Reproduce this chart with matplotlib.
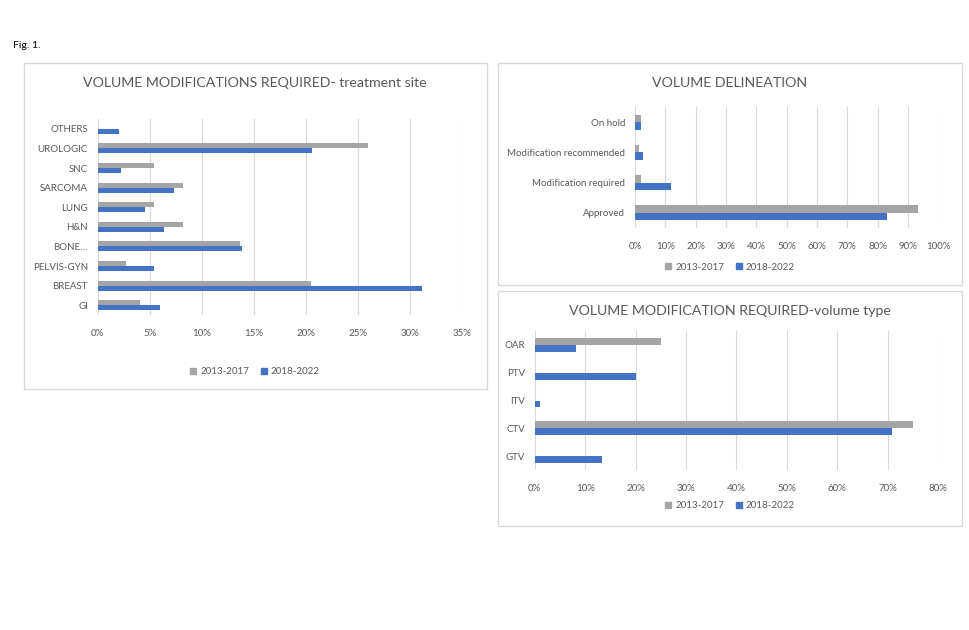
import matplotlib
matplotlib.use("Agg")
import matplotlib.pyplot as plt
from matplotlib.patches import Rectangle, Patch
from matplotlib.ticker import FuncFormatter
import numpy as np

plt.rcParams['font.family'] = ['Lato', 'DejaVu Sans']

# data (percent)
series = ["2013-2017", "2018-2022"]

site_cats = ["GI", "BREAST", "PELVIS-GYN", "BONE…", "H&N", "LUNG", "SARCOMA", "SNC", "UROLOGIC", "OTHERS"]
site_old = [4.1, 20.5, 2.7, 13.7, 8.2, 5.4, 8.2, 5.4, 26.0, 0]
site_new = [6.0, 31.2, 5.4, 13.9, 6.4, 4.5, 7.3, 2.2, 20.6, 2.0]

delin_cats = ["Approved", "Modification required", "Modification recommended", "On hold"]
delin_old = [93.3, 2.0, 1.3, 2.0]
delin_new = [83.1, 11.9, 2.6, 2.0]

vtype_cats = ["GTV", "CTV", "ITV", "PTV", "OAR"]
vtype_old = [0, 75.0, 0, 0, 25.0]
vtype_new = [13.4, 70.9, 1.0, 20.0, 8.2]

GRAY = "#A5A5A5"
BLUE = "#4472C4"
TXT = "#595959"
GRID = "#D9D9D9"

W, H = 969, 630
fig = plt.figure(figsize=(W / 100, H / 100), dpi=100)
fig.patch.set_facecolor("white")


def rect(x0, y0, x1, y1):
    return [x0 / W, 1 - y1 / H, (x1 - x0) / W, (y1 - y0) / H]


def panel_box(x0, y0, x1, y1):
    fig.patches.append(Rectangle((x0 / W, 1 - y1 / H), (x1 - x0) / W, (y1 - y0) / H,
                                 transform=fig.transFigure, fill=False,
                                 edgecolor=GRID, linewidth=1.0))


def bars(ax, cats, old, new, xmax, step):
    y = np.arange(len(cats))
    h = 0.25
    ax.barh(y + h / 2, old, height=h, color=GRAY)
    ax.barh(y - h / 2, new, height=h, color=BLUE)
    ax.set_yticks(y)
    ax.set_yticklabels(cats)
    ax.set_ylim(-0.5, len(cats) - 0.5)
    ax.set_xlim(0, xmax)
    ax.set_xticks(np.arange(0, xmax + 0.01, step))
    ax.xaxis.set_major_formatter(FuncFormatter(lambda v, p: f"{v:.0f}%"))
    ax.grid(axis="x", color=GRID, linewidth=0.8)
    ax.set_axisbelow(True)
    for s in ax.spines.values():
        s.set_visible(False)
    ax.tick_params(length=0, labelsize=7, colors=TXT)
    ax.tick_params(axis="y", pad=7)
    ax.tick_params(axis="x", pad=10)


def legend_at(x, y):
    handles = [Patch(color=GRAY, label=series[0]), Patch(color=BLUE, label=series[1])]
    fig.legend(handles=handles, loc="center", bbox_to_anchor=(x / W, 1 - y / H), ncol=2,
               frameon=False, fontsize=7, labelcolor=TXT, handlelength=0.6,
               handleheight=0.6, handletextpad=0.4, columnspacing=1.2)


fig.text(13 / W, 1 - 45 / H, "Fig. 1.", fontsize=7.5, color="black", va="center")

# panel 1
panel_box(24, 63, 487, 389)
fig.text(255 / W, 1 - 83 / H, "VOLUME MODIFICATIONS REQUIRED- treatment site",
         ha="center", va="center", fontsize=10.2, color=TXT)
ax1 = fig.add_axes(rect(97.7, 119, 461.7, 315))
bars(ax1, site_cats, site_old, site_new, 35, 5)
legend_at(255, 372)

# panel 2
panel_box(498, 63, 962, 285)
fig.text(730 / W, 1 - 83 / H, "VOLUME DELINEATION",
         ha="center", va="center", fontsize=10.2, color=TXT)
ax2 = fig.add_axes(rect(635, 107, 938.3, 228))
bars(ax2, delin_cats, delin_old, delin_new, 100, 10)
legend_at(730, 267)

# panel 3
panel_box(498, 291, 962, 526)
fig.text(730 / W, 1 - 311 / H, "VOLUME MODIFICATION REQUIRED-volume type",
         ha="center", va="center", fontsize=10.2, color=TXT)
ax3 = fig.add_axes(rect(534.7, 331, 938, 470))
bars(ax3, vtype_cats, vtype_old, vtype_new, 80, 10)
legend_at(730, 506)

fig.savefig("out.png", dpi=100)
